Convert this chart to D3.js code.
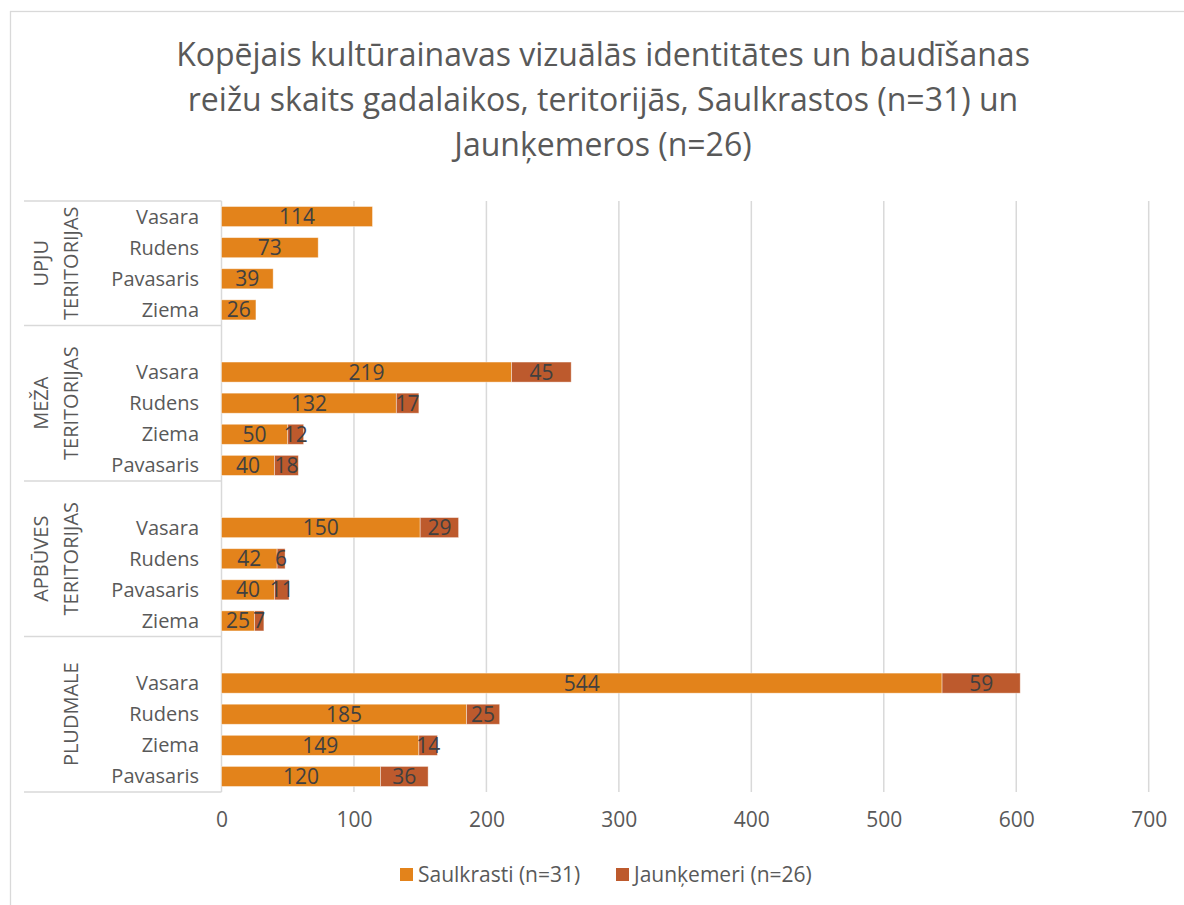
<!DOCTYPE html>
<html>
<head>
<meta charset="utf-8">
<script src="https://cdn.jsdelivr.net/npm/d3@7"></script>
<style>
  body { margin: 0; background: #fff; }
  text { font-family: "Open Sans", "Noto Sans", sans-serif; }
</style>
</head>
<body>
<div id="chart"></div>
<script>
// data
const titleLines = [
    "Kopējais kultūrainavas vizuālās identitātes un baudīšanas",
    "reižu skaits gadalaikos, teritorijās, Saulkrastos (n=31) un",
    "Jaunķemeros (n=26)"
]
const seriesNames = ["Saulkrasti (n=31)", "Jaunķemeri (n=26)"]
const groupNames = ["UPJU TERITORIJAS", "MEŽA TERITORIJAS", "APBŪVES TERITORIJAS", "PLUDMALE"]
const groupLabelLines = [["UPJU", "TERITORIJAS"], ["MEŽA", "TERITORIJAS"], ["APBŪVES", "TERITORIJAS"], ["PLUDMALE"]]
const seasons = [
    ["Vasara", "Rudens", "Pavasaris", "Ziema"],
    ["Vasara", "Rudens", "Ziema", "Pavasaris"],
    ["Vasara", "Rudens", "Pavasaris", "Ziema"],
    ["Vasara", "Rudens", "Ziema", "Pavasaris"]
]
const saulkrasti = [
    [114, 73, 39, 26],
    [219, 132, 50, 40],
    [150, 42, 40, 25],
    [544, 185, 149, 120]
]
const jaunkemeri = [
    [null, null, null, null],
    [45, 17, 12, 18],
    [29, 6, 11, 7],
    [59, 25, 14, 36]
]
const xTicks = [0, 100, 200, 300, 400, 500, 600, 700]

const colors = ["#E3831B", "#BD5A2D"]
const gridColor = "#d9d9d9"
const textColor = "#595959"
const labelColor = "#404040"

//size and margins
const width = 1184, height = 905
const plot = { left: 221.5, right: 1148.7, top: 201, bottom: 792 }

const svg = d3.select("#chart").append("svg")
    .attr("width", width)
    .attr("height", height)

//chart border
svg.append("rect")
    .attr("x", 10.5).attr("y", 11.5)
    .attr("width", 1200).attr("height", 1000)
    .attr("fill", "#fff")
    .attr("stroke", gridColor)
    .attr("stroke-width", 1.3)

//title
svg.append("g").selectAll("text")
    .data(titleLines)
    .join("text")
    .attr("x", 603)
    .attr("y", (d, i) => 66 + i * 45)
    .attr("text-anchor", "middle")
    .attr("fill", textColor)
    .style("font-size", "32px")
    .text(d => d)

//rows: groups of seasons, blank row between groups
let rows = []
groupNames.forEach((g, gi) => {
    if (gi > 0) rows.push({ key: "blank" + gi, blank: true })
    seasons[gi].forEach((s, si) => {
        rows.push({
            key: g + "|" + s, group: gi, season: s,
            a: saulkrasti[gi][si], b: jaunkemeri[gi][si]
        })
    })
})
const dataRows = rows.filter(r => !r.blank)

const x = d3.scaleLinear()
    .domain([0, 700])
    .range([plot.left, plot.right])
const y = d3.scaleBand()
    .domain(rows.map(r => r.key))
    .range([plot.top, plot.bottom])
    .paddingInner(0.355)
    .paddingOuter(0.1775)

//vertical gridlines
svg.append("g").selectAll("line")
    .data(xTicks)
    .join("line")
    .attr("x1", d => x(d)).attr("x2", d => x(d))
    .attr("y1", plot.top).attr("y2", plot.bottom)
    .attr("stroke", gridColor)
    .attr("stroke-width", 1.5)

//x axis labels
const xAxis = svg.append("g")
    .attr("transform", `translate(0,${plot.bottom})`)
    .call(d3.axisBottom(x).tickValues(xTicks).tickSize(0).tickPadding(20))
xAxis.select(".domain").remove()
xAxis.selectAll("text")
    .attr("fill", textColor)
    .style("font-size", "21px")
    .style("font-family", "'Open Sans', sans-serif")

//group boundaries of the multi level category axis
const groupBounds = groupNames.map((g, gi) => {
    const keys = dataRows.filter(r => r.group == gi).map(r => r.key)
    const step = y.step()
    let top = y(keys[0]) - step * y.paddingInner() / 2
    let bottom = y(keys[keys.length - 1]) + y.bandwidth() + step * y.paddingInner() / 2
    if (gi > 0) top -= step
    if (gi == 0) top = plot.top
    if (gi == groupNames.length - 1) bottom = plot.bottom
    return { top: top, bottom: bottom, lines: groupLabelLines[gi] }
})
const sepYs = [plot.top].concat(groupBounds.map(d => d.bottom))
svg.append("g").selectAll("line")
    .data(sepYs)
    .join("line")
    .attr("x1", 24).attr("x2", plot.left)
    .attr("y1", d => d).attr("y2", d => d)
    .attr("stroke", gridColor)
    .attr("stroke-width", 1.5)

//category labels
svg.append("g").selectAll("text")
    .data(dataRows)
    .join("text")
    .attr("x", 199)
    .attr("y", d => y(d.key) + y.bandwidth() / 2)
    .attr("dy", "0.35em")
    .attr("text-anchor", "end")
    .attr("fill", textColor)
    .style("font-size", "20px")
    .text(d => d.season)

//group labels, rotated
const groupLabel = svg.append("g").selectAll("g")
    .data(groupBounds)
    .join("g")
    .attr("transform", d => `translate(0,${(d.top + d.bottom) / 2}) rotate(-90)`)
groupLabel.selectAll("text")
    .data(d => d.lines.map((t, i) => ({ t: t, i: i, n: d.lines.length })))
    .join("text")
    .attr("x", 0)
    .attr("y", d => d.n == 1 ? 78 : 48 + d.i * 30)
    .attr("text-anchor", "middle")
    .attr("fill", textColor)
    .style("font-size", "20px")
    .text(d => d.t)

//stacked bars
const segments = []
dataRows.forEach(r => {
    segments.push({ row: r, x0: 0, x1: r.a, v: r.a, s: 0 })
    if (r.b != null) segments.push({ row: r, x0: r.a, x1: r.a + r.b, v: r.b, s: 1 })
})
svg.append("g").selectAll("rect")
    .data(segments)
    .join("rect")
    .attr("x", d => x(d.x0))
    .attr("y", d => y(d.row.key))
    .attr("width", d => x(d.x1) - x(d.x0))
    .attr("height", y.bandwidth())
    .attr("fill", d => colors[d.s])
    .attr("stroke", "#fff")
    .attr("stroke-opacity", 0.5)
    .attr("stroke-width", 0.8)

//data labels
svg.append("g").selectAll("text")
    .data(segments)
    .join("text")
    .attr("x", d => x((d.x0 + d.x1) / 2))
    .attr("y", d => y(d.row.key) + y.bandwidth() / 2)
    .attr("dy", "0.36em")
    .attr("text-anchor", "middle")
    .attr("fill", labelColor)
    .style("font-size", "21px")
    .text(d => d.v)

//legend
const legendX = [400, 616]
const legend = svg.append("g").selectAll("g")
    .data(seriesNames)
    .join("g")
    .attr("transform", (d, i) => `translate(${legendX[i]},868)`)
legend.append("rect")
    .attr("width", 13).attr("height", 13)
    .attr("fill", (d, i) => colors[i])
legend.append("text")
    .attr("x", 18).attr("y", 6.5)
    .attr("dy", "0.36em")
    .attr("fill", textColor)
    .style("font-size", "21px")
    .text(d => d)
</script>
</body>
</html>
